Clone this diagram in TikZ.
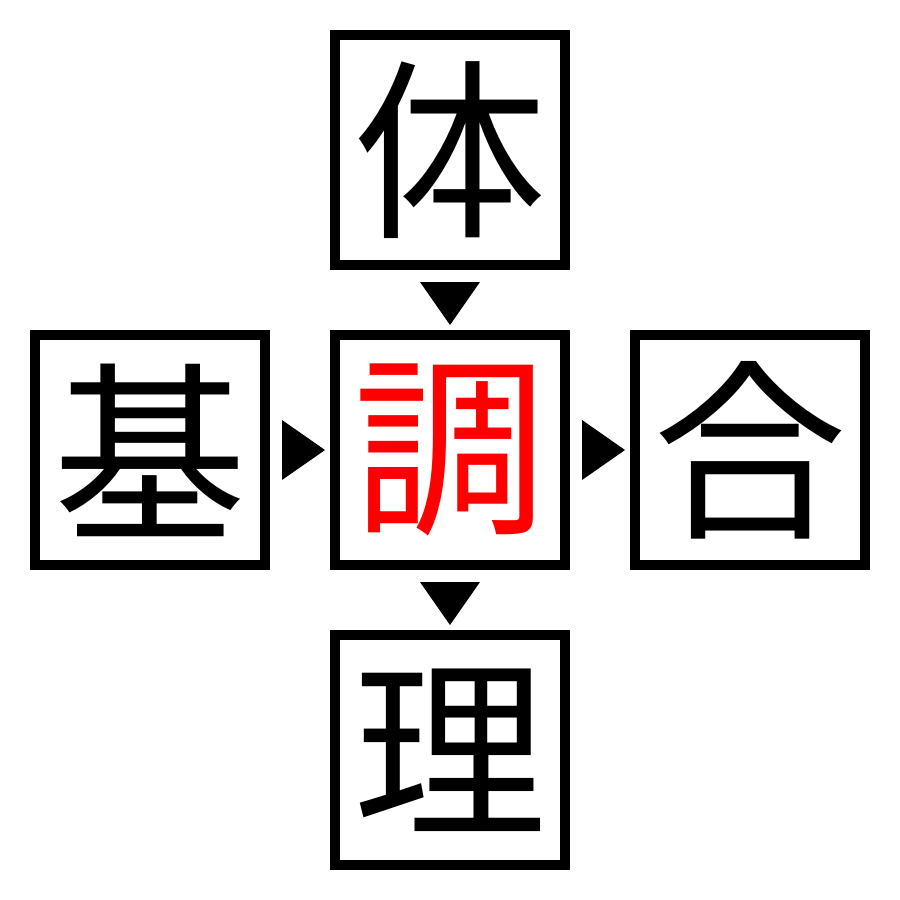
\documentclass[tikz,border=0pt]{standalone}
\usepackage{fontspec}
\newfontfamily\cjk{Noto Sans CJK JP}
\begin{document}
\begin{tikzpicture}[x=0.01cm,y=-0.01cm,
  cell/.style={draw=black,line width=2.845pt,minimum size=2.3cm,inner sep=0pt,font=\cjk\fontsize{55}{55}\selectfont},
  tri/.style={fill=black}]
\useasboundingbox (0,0) rectangle (900,900);
\fill[white] (0,0) rectangle (900,900);
\node[cell] (top) at (450,150) {体};
\node[cell,text=red] (mid) at (450,450) {調};
\node[cell] (left) at (150,450) {基};
\node[cell] (right) at (750,450) {合};
\node[cell] (bot) at (450,750) {理};
\coordinate (t1) at (450,303);
\coordinate (t2) at (303,450);
\coordinate (t3) at (603,450);
\coordinate (t4) at (450,603);
\fill[tri] ([xshift=-30*0.01cm,yshift=21*0.01cm]t1) -- ([xshift=30*0.01cm,yshift=21*0.01cm]t1) -- ([yshift=-22*0.01cm]t1) -- cycle;
\fill[tri] ([xshift=-21*0.01cm,yshift=30*0.01cm]t2) -- ([xshift=-21*0.01cm,yshift=-30*0.01cm]t2) -- ([xshift=22*0.01cm]t2) -- cycle;
\fill[tri] ([xshift=-21*0.01cm,yshift=30*0.01cm]t3) -- ([xshift=-21*0.01cm,yshift=-30*0.01cm]t3) -- ([xshift=22*0.01cm]t3) -- cycle;
\fill[tri] ([xshift=-30*0.01cm,yshift=21*0.01cm]t4) -- ([xshift=30*0.01cm,yshift=21*0.01cm]t4) -- ([yshift=-22*0.01cm]t4) -- cycle;
\end{tikzpicture}
\end{document}
